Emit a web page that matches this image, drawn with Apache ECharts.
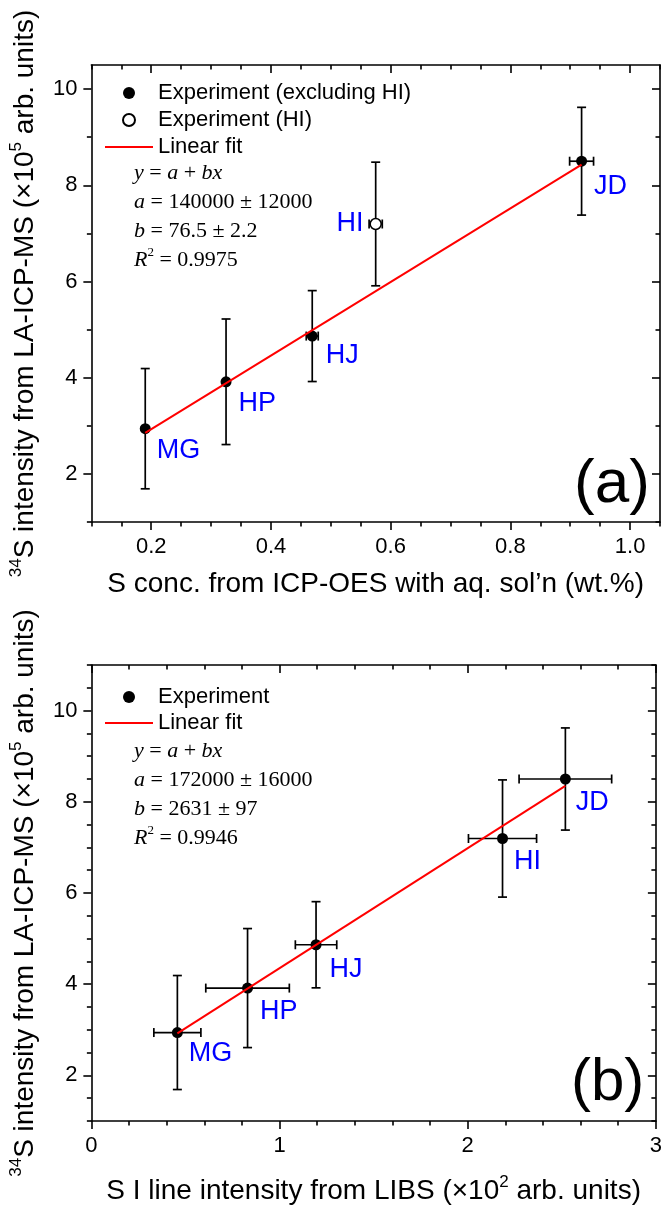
<!DOCTYPE html>
<html>
<head>
<meta charset="utf-8">
<script src="https://cdn.jsdelivr.net/npm/echarts@6/dist/echarts.min.js"></script>
<style>
  html, body { margin: 0; padding: 0; background: #fff; }
  #chart { width: 665px; height: 1210px; }
</style>
</head>
<body>
<div id="chart"></div>
<script>
// Samples shared by both panels
const samples = ['MG', 'HP', 'HJ', 'HI', 'JD'];
// 34S intensity from LA-ICP-MS (x1e5 arb. units) and its uncertainty
const lamsIntensity = [2.94, 3.915, 4.865, 7.195, 8.50];
const lamsIntensityErr = [1.25, 1.305, 0.945, 1.285, 1.12];
// (a) S concentration from ICP-OES with aqueous solution (wt.%)
const icpConc = [0.190, 0.325, 0.469, 0.575, 0.919];
const icpConcErr = [0, 0, 0.010, 0.011, 0.020];
// (b) S I line intensity from LIBS (x1e2 arb. units)
const libsIntensity = [0.457, 0.830, 1.194, 2.185, 2.519];
const libsIntensityErr = [0.125, 0.222, 0.110, 0.181, 0.246];
// sample left out of the fit in panel (a)
const excludedSample = 'HI';

// linear fit y = a + b x, panel (a): x in ppm, y in arb. units
const fitA_a = 140000, fitA_aErr = 12000, fitA_b = 76.5, fitA_bErr = 2.2, fitA_r2 = 0.9975;
// linear fit y = a + b x, panel (b): x and y in arb. units
const fitB_a = 172000, fitB_aErr = 16000, fitB_b = 2631, fitB_bErr = 97, fitB_r2 = 0.9946;

// tick values
const ticksAx = [0.2, 0.4, 0.6, 0.8, 1.0];
const minorTicksAx = [0.1, 0.15, 0.25, 0.3, 0.35, 0.45, 0.5, 0.55, 0.65, 0.7, 0.75, 0.85, 0.9, 0.95, 1.05];
const ticksAy = [2, 4, 6, 8, 10];
const minorTicksAy = [1, 3, 5, 7, 9];
const ticksBx = [0, 1, 2, 3];
const minorTicksBx = [0.2, 0.4, 0.6, 0.8, 1.2, 1.4, 1.6, 1.8, 2.2, 2.4, 2.6, 2.8];
const ticksBy = [2, 4, 6, 8, 10];
const minorTicksBy = [1, 1.5, 2.5, 3, 3.5, 4.5, 5, 5.5, 6.5, 7, 7.5, 8.5, 9, 9.5, 10.5, 11];

const SANS = 'Liberation Sans, Arial, sans-serif';
const SERIF = 'Liberation Serif, Times New Roman, serif';
const AX = { color: '#000', width: 1.6 };

// where each sample name sits next to its point
const labelSpotsA = {
  MG: { position: 'right', offset: [6, 22] },
  HP: { position: 'right', offset: [7, 22] },
  HJ: { position: 'right', offset: [8, 19] },
  HI: { position: 'left', offset: [-6, 0] },
  JD: { position: 'right', offset: [7, 25] }
};
const labelSpotsB = {
  MG: { position: 'right', offset: [6, 21] },
  HP: { position: 'right', offset: [7, 23] },
  HJ: { position: 'right', offset: [8, 25] },
  HI: { position: 'right', offset: [6, 23] },
  JD: { position: 'right', offset: [5, 24] }
};

const sampleLabel = {
  show: true, formatter: '{b}', color: '#0000ff', opacity: 1, fontSize: 27, fontFamily: SANS, distance: 0
};

function pointItem(i, xs, spots) {
  return { name: samples[i], value: [xs[i], lamsIntensity[i]], label: spots[samples[i]] };
}

function errRows(xs, xErr) {
  return samples.map((s, i) => [xs[i], lamsIntensity[i], xErr[i], lamsIntensityErr[i]]);
}

// error bars with end caps
function renderErrorBars(params, api) {
  const x = api.value(0), y = api.value(1), xe = api.value(2), ye = api.value(3);
  const cap = 4.5;
  const st = { stroke: '#000', lineWidth: 1.7 };
  const kids = [];
  const seg = (x1, y1, x2, y2) => ({ type: 'line', shape: { x1, y1, x2, y2 }, style: st });
  if (ye > 0) {
    const t = api.coord([x, y + ye]), b = api.coord([x, y - ye]);
    kids.push(seg(t[0], t[1], b[0], b[1]), seg(t[0] - cap, t[1], t[0] + cap, t[1]), seg(b[0] - cap, b[1], b[0] + cap, b[1]));
  }
  if (xe > 0) {
    const l = api.coord([x - xe, y]), r = api.coord([x + xe, y]);
    kids.push(seg(l[0], l[1], r[0], r[1]), seg(l[0], l[1] - cap, l[0], l[1] + cap), seg(r[0], r[1] - cap, r[0], r[1] + cap));
  }
  return { type: 'group', children: kids };
}

// four axes per side pair: labelled main, its minor ticks, mirrored frame, mirrored minor ticks
function axisGroup(gridIndex, min, max, major, minor, pos, mirror, labelFmt, nameCfg) {
  const base = { type: 'value', gridIndex, min, max, splitLine: { show: false } };
  return [
    Object.assign({}, base, nameCfg, {
      position: pos,
      axisLine: { show: true, onZero: false, lineStyle: AX },
      axisTick: { show: true, inside: false, length: 8, lineStyle: AX, customValues: major },
      axisLabel: { show: true, customValues: major, formatter: labelFmt, fontSize: 22, fontFamily: SANS, color: '#000', margin: 14 }
    }),
    Object.assign({}, base, {
      position: pos,
      axisLine: { show: false, onZero: false },
      axisTick: { show: true, inside: false, length: 4.5, lineStyle: AX, customValues: minor },
      axisLabel: { show: false }
    }),
    Object.assign({}, base, {
      position: mirror,
      axisLine: { show: true, onZero: false, lineStyle: AX },
      axisTick: { show: true, inside: true, length: 8, lineStyle: AX, customValues: major },
      axisLabel: { show: false }
    }),
    Object.assign({}, base, {
      position: mirror,
      axisLine: { show: false, onZero: false },
      axisTick: { show: true, inside: true, length: 4.5, lineStyle: AX, customValues: minor },
      axisLabel: { show: false }
    })
  ];
}

const titleRich = {
  sup: { fontSize: 17, lineHeight: 21, verticalAlign: 'top', fontFamily: SANS, color: '#000' }
};
const titleStyle = { fontSize: 28, lineHeight: 34, fontFamily: SANS, color: '#000', rich: titleRich };
const yTitle = '{sup|34}S intensity from LA-ICP-MS (\u00d710{sup|5} arb. units)';

const xAxes = []
  .concat(axisGroup(0, 0.1, 1.05, ticksAx, minorTicksAx, 'bottom', 'top', v => v.toFixed(1), {
    name: 'S conc. from ICP-OES with aq. sol\u2019n (wt.%)', nameLocation: 'middle', nameGap: 45, nameTextStyle: titleStyle
  }))
  .concat(axisGroup(1, 0, 3, ticksBx, minorTicksBx, 'bottom', 'top', v => String(v), {
    name: 'S I line intensity from LIBS (\u00d710{sup|2} arb. units)', nameLocation: 'middle', nameGap: 53, nameTextStyle: titleStyle
  }));
const yAxes = []
  .concat(axisGroup(0, 1, 10.5, ticksAy, minorTicksAy, 'left', 'right', v => String(v), {
    name: yTitle, nameLocation: 'middle', nameGap: 42, nameTextStyle: titleStyle
  }))
  .concat(axisGroup(1, 1, 11, ticksBy, minorTicksBy, 'left', 'right', v => String(v), {
    name: yTitle, nameLocation: 'middle', nameGap: 42, nameTextStyle: titleStyle
  }));

// fit lines spanning the fitted samples
const fitXsA = samples.map((s, i) => icpConc[i]).filter((v, i) => samples[i] !== excludedSample);
const fitLineA = [Math.min(...fitXsA), Math.max(...fitXsA)].map(x => [x, (fitA_a + fitA_b * x * 1e4) / 1e5]);
const fitLineB = [Math.min(...libsIntensity), Math.max(...libsIntensity)].map(x => [x, (fitB_a + fitB_b * x * 100) / 1e5]);

function fitText(a, aErr, b, bErr, r2) {
  return '{i|y} = {i|a} + {i|bx}\n' +
    '{i|a} = ' + a + ' \u00b1 ' + aErr + '\n' +
    '{i|b} = ' + b + ' \u00b1 ' + bErr + '\n' +
    '{i|R}{s|2} = ' + r2;
}
const fitRich = {
  i: { fontStyle: 'italic', fontFamily: SERIF, fontSize: 22 },
  s: { fontSize: 13, lineHeight: 24, verticalAlign: 'top', fontFamily: SERIF }
};

const legendText = { fontSize: 22, lineHeight: 22, fontFamily: SANS, color: '#000' };
const fitLegendItem = { name: 'Linear fit', itemStyle: { opacity: 0 } };

const idxA = samples.map((s, i) => i);
const option = {
  animation: false,
  backgroundColor: '#fff',
  grid: [
    { left: 91, top: 65, width: 569, height: 457 },
    { left: 91, top: 665, width: 568, height: 456 }
  ],
  xAxis: xAxes,
  yAxis: yAxes,
  legend: [
    {
      orient: 'vertical', left: 104, top: 82, padding: 0, itemWidth: 48, itemHeight: 12, itemGap: 5,
      selectedMode: false,
      data: ['Experiment (excluding HI)', 'Experiment (HI)', fitLegendItem],
      textStyle: legendText
    },
    {
      orient: 'vertical', left: 104, top: 686, padding: 0, itemWidth: 48, itemHeight: 12, itemGap: 4,
      selectedMode: false,
      data: ['Experiment', fitLegendItem],
      textStyle: legendText
    }
  ],
  graphic: [
    {
      type: 'text', left: 134, top: 159,
      style: { text: fitText(fitA_a, fitA_aErr, fitA_b, fitA_bErr, fitA_r2), fontFamily: SERIF, fontSize: 22, lineHeight: 29, fill: '#000', rich: fitRich }
    },
    {
      type: 'text', left: 134, top: 737,
      style: { text: fitText(fitB_a, fitB_aErr, fitB_b, fitB_bErr, fitB_r2), fontFamily: SERIF, fontSize: 22, lineHeight: 29, fill: '#000', rich: fitRich }
    },
    { type: 'text', left: 574, top: 454, style: { text: '(a)', fontFamily: SANS, fontSize: 62, fill: '#000' } },
    { type: 'text', left: 571, top: 1053, style: { text: '(b)', fontFamily: SANS, fontSize: 60, fill: '#000' } }
  ],
  series: [
    {
      type: 'custom', name: 'errA', xAxisIndex: 0, yAxisIndex: 0, z: 1, silent: true,
      renderItem: renderErrorBars, encode: { x: 0, y: 1 }, data: errRows(icpConc, icpConcErr)
    },
    {
      type: 'scatter', name: 'Experiment (excluding HI)', xAxisIndex: 0, yAxisIndex: 0, z: 2,
      symbol: 'circle', symbolSize: 11, itemStyle: { color: '#000', opacity: 1 }, label: sampleLabel,
      data: idxA.filter(i => samples[i] !== excludedSample).map(i => pointItem(i, icpConc, labelSpotsA))
    },
    {
      type: 'scatter', name: 'Experiment (HI)', xAxisIndex: 0, yAxisIndex: 0, z: 2,
      symbol: 'circle', symbolSize: 11, itemStyle: { color: '#fff', borderColor: '#000', borderWidth: 1.5, opacity: 1 }, label: sampleLabel,
      data: idxA.filter(i => samples[i] === excludedSample).map(i => pointItem(i, icpConc, labelSpotsA))
    },
    {
      type: 'line', name: 'Linear fit', xAxisIndex: 0, yAxisIndex: 0, z: 3,
      symbol: 'none', lineStyle: { color: '#ff0000', width: 2 }, itemStyle: { color: '#ff0000' },
      data: fitLineA
    },
    {
      type: 'custom', name: 'errB', xAxisIndex: 4, yAxisIndex: 4, z: 1, silent: true,
      renderItem: renderErrorBars, encode: { x: 0, y: 1 }, data: errRows(libsIntensity, libsIntensityErr)
    },
    {
      type: 'scatter', name: 'Experiment', xAxisIndex: 4, yAxisIndex: 4, z: 2,
      symbol: 'circle', symbolSize: 11, itemStyle: { color: '#000', opacity: 1 }, label: sampleLabel,
      data: idxA.map(i => pointItem(i, libsIntensity, labelSpotsB))
    },
    {
      type: 'line', name: 'Linear fit', xAxisIndex: 4, yAxisIndex: 4, z: 3,
      symbol: 'none', lineStyle: { color: '#ff0000', width: 2 }, itemStyle: { color: '#ff0000' },
      data: fitLineB
    }
  ]
};

const chart = echarts.init(document.getElementById('chart'), null, { renderer: 'canvas' });
chart.setOption(option);
</script>
</body>
</html>
